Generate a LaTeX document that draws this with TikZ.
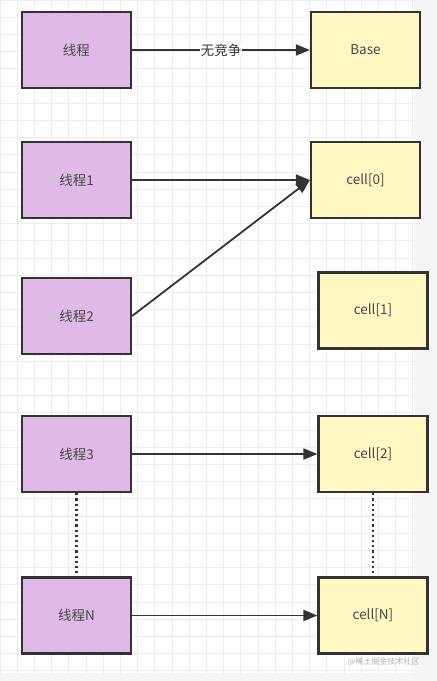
\documentclass[tikz,border=0pt]{standalone}
\usepackage{fontspec}
\setmainfont{Noto Sans CJK SC}
\usetikzlibrary{arrows.meta}
\definecolor{thr}{HTML}{DFBAE6}
\definecolor{cel}{HTML}{FFF8C2}
\definecolor{edge}{HTML}{333333}
\definecolor{gridc}{HTML}{EDEDED}
\tikzset{
  box/.style={draw=edge, line width=2.2pt, minimum width=109pt, minimum height=76pt, inner sep=0pt, font=\fontsize{13.5}{16}\selectfont, text=edge!90},
  thread/.style={box, fill=thr},
  cellbox/.style={box, fill=cel},
  conn/.style={draw=edge, line width=1.8pt, -{Triangle[length=14pt,width=11pt]}},
  dotconn/.style={draw=edge, line width=2.2pt, dash pattern=on 2.2pt off 3pt}
}
\begin{document}
\begin{tikzpicture}[x=1pt,y=-1pt]
\useasboundingbox (0,0) rectangle (437,681);
\fill[white] (0,0) rectangle (437,681);
\fill[black!4] (414,0) rectangle (437,681);
\fill[black!4] (0,673) rectangle (437,681);
\foreach \i in {0,...,24} {\draw[gridc, line width=0.7pt] ({\i*17.2},0) -- ({\i*17.2},673);}
\foreach \j in {0,...,39} {\draw[gridc, line width=0.7pt] (0,{\j*17.2}) -- (414,{\j*17.2});}

\node[thread] (t0) at (76.5,50) {线程};
\node[cellbox] (base) at (365.5,50) {Base};
\node[thread] (t1) at (76.5,180) {线程1};
\node[cellbox] (c0) at (365.5,180) {cell[0]};
\node[thread] (t2) at (76.5,316) {线程2};
\node[cellbox] (c1) at (373,310.5) {cell[1]};
\node[thread] (t3) at (76.5,454) {线程3};
\node[cellbox] (c2) at (373,454) {cell[2]};
\node[thread] (tn) at (76.5,615.5) {线程N};
\node[cellbox] (cn) at (373,615.5) {cell[N]};

\draw[conn] (t0) -- node[fill=white, inner sep=1pt, font=\fontsize{13.5}{16}\selectfont, text=edge] {无竞争} (base);
\draw[conn] (t1) -- (c0);
\draw[conn] (t2.east) -- (c0.west);
\draw[conn] (t3) -- (c2);
\draw[conn] (tn) -- (cn);
\draw[dotconn] (t3) -- (tn);
\draw[dotconn] (c2) -- (cn);

\node[text=black!30, font=\fontsize{8}{9}\selectfont, anchor=east] (wm) at (423,662) {@稀土掘金技术社区};
\end{tikzpicture}
\end{document}
